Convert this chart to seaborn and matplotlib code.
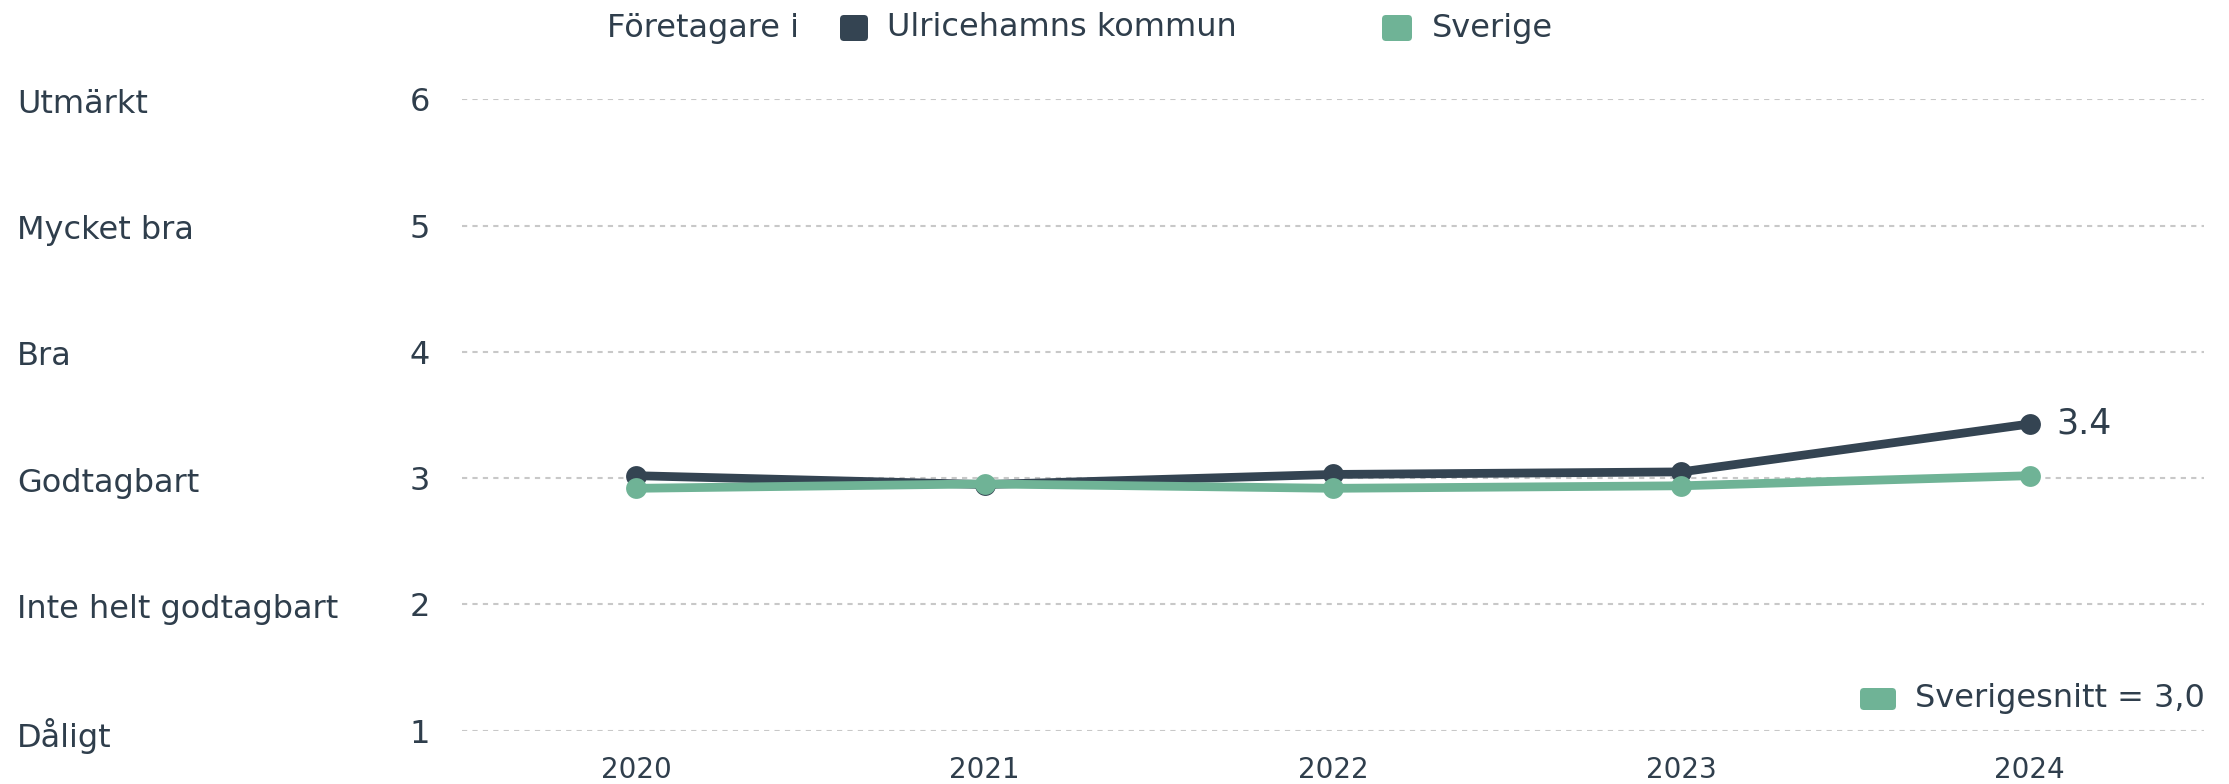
import matplotlib
matplotlib.use("Agg")
import matplotlib.pyplot as plt
import seaborn as sns
import pandas as pd
from matplotlib.patches import FancyBboxPatch

years = [2020, 2021, 2022, 2023, 2024]
ulricehamn = [3.02, 2.95, 3.03, 3.05, 3.43]
sverige = [2.92, 2.955, 2.92, 2.94, 3.02]
series_names = ["Ulricehamns kommun", "Sverige"]
y_ticks = [1, 2, 3, 4, 5, 6]
y_categories = ["Dåligt", "Inte helt godtagbart", "Godtagbart", "Bra", "Mycket bra", "Utmärkt"]
last_label = "3.4"
avg_label = "Sverigesnitt = 3,0"
legend_title = "Företagare i"

DARK = "#344452"
GREEN = "#6fb396"
TEXT = "#2f3e4c"

sns.set_theme(style="white")
plt.rcParams['font.family'] = ['DejaVu Sans']

df = pd.DataFrame({
    "year": years * 2,
    "value": ulricehamn + sverige,
    "series": [series_names[0]] * len(years) + [series_names[1]] * len(years),
})

W, H = 2229, 784
fig = plt.figure(figsize=(W / 100, H / 100), dpi=100)
ax = fig.add_axes([462 / W, 1 - 730.7 / H, (2204 - 462) / W, (730.7 - 99.5) / H])

sns.lineplot(data=df, x="year", y="value", hue="series",
             palette={series_names[0]: DARK, series_names[1]: GREEN},
             marker="o", markersize=15, markeredgewidth=0, linewidth=6.3,
             ax=ax, legend=False, clip_on=False)

ax.set_xlim(2019.5, 2024.5)
ax.set_ylim(1, 6)
ax.set_xticks(years)
ax.set_xticklabels([str(y) for y in years], fontsize=20, color=TEXT)
ax.set_yticks(y_ticks)
ax.set_yticklabels([str(t) for t in y_ticks], fontsize=23, color=TEXT)
ax.tick_params(axis="x", length=0, pad=18)
ax.tick_params(axis="y", length=0, pad=23)
ax.set_xlabel("")
ax.set_ylabel("")
for s in ax.spines.values():
    s.set_visible(False)
for t in y_ticks:
    ax.axhline(t, color="#c8c8c8", linewidth=1.5, linestyle=(0, (2.5, 2.5)), zorder=0)

# category labels at left
for t, cat in zip(y_ticks, y_categories):
    ax.annotate(cat, xy=(17 / W, t), xycoords=("figure fraction", "data"),
                xytext=(0, -3.5), textcoords="offset points",
                ha="left", va="center", fontsize=23, color=TEXT)

# end label
ax.annotate(last_label, xy=(years[-1], ulricehamn[-1]), xytext=(19, 0),
            textcoords="offset points", ha="left", va="center",
            fontsize=25, color=TEXT)

def square(x0, y0, w, h, c):
    # pixel coords (top-left origin) -> inches
    p = FancyBboxPatch((x0 / 100, (H - y0 - h) / 100), w / 100, h / 100,
                       boxstyle="round,pad=0,rounding_size=0.04",
                       transform=fig.dpi_scale_trans, facecolor=c, edgecolor="none")
    fig.patches.append(p)

# top legend
ty = 28
fig.text(607 / W, 1 - ty / H, legend_title, ha="left", va="center", fontsize=23, color=TEXT)
square(840, 15, 28, 26, DARK)
fig.text(887 / W, 1 - ty / H, series_names[0], ha="left", va="center", fontsize=23, color=TEXT)
square(1382, 15, 30, 26, GREEN)
fig.text(1432 / W, 1 - ty / H, series_names[1], ha="left", va="center", fontsize=23, color=TEXT)

# bottom-right average legend
square(1860, 688, 36, 22, GREEN)
fig.text(1915 / W, 1 - 699 / H, avg_label, ha="left", va="center", fontsize=23, color=TEXT)

fig.savefig("out.png", dpi=100, facecolor="white")
